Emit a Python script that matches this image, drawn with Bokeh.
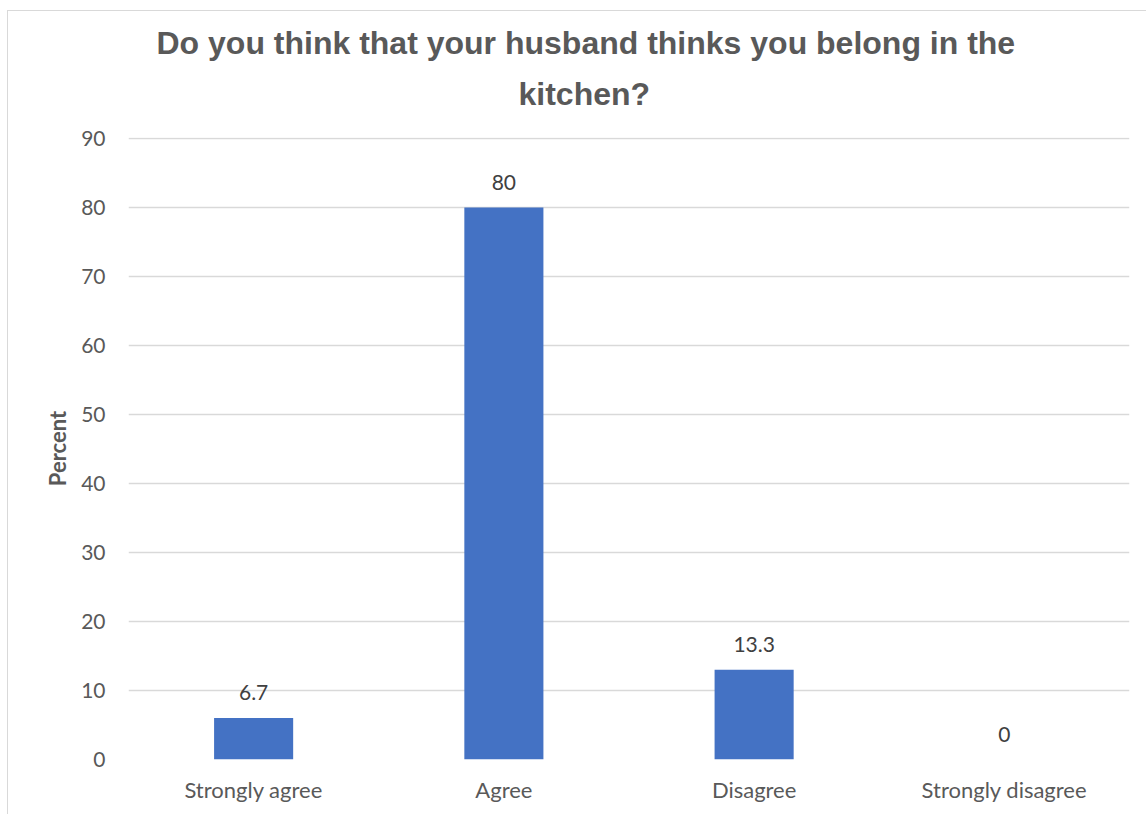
from bokeh.plotting import figure
from bokeh.models import ColumnDataSource, LabelSet, Title, FactorRange, Range1d, SingleIntervalTicker
from bokeh.core.properties import value
from bokeh.embed import file_html
from bokeh.resources import INLINE

categories = ["Strongly agree", "Agree", "Disagree", "Strongly disagree"]
bar_values = [6, 80, 13, 0]
label_texts = ["6.7", "80", "13.3", "0"]
title_line1 = "Do you think that your husband thinks you belong in the"
title_line2 = "kitchen?"
y_label = "Percent"

BAR_COLOR = "#4472C4"
GRID = "#D9D9D9"
TEXT = "#595959"
FONT = "Lato"

src = ColumnDataSource(dict(cat=categories, val=bar_values, lab=label_texts))

p = figure(x_range=FactorRange(*categories, range_padding=0), y_range=Range1d(0, 90.15),
           width=1139, height=804, output_backend="svg", toolbar_location=None,
           min_border_left=120, min_border_right=18, min_border_top=126, min_border_bottom=56)
p.margin = (10, 0, 0, 7)
p.styles = {"border-top": "1px solid #D9D9D9", "border-left": "1px solid #D9D9D9"}
p.title = None

p.vbar(x="cat", top="val", width=0.316, source=src, fill_color=BAR_COLOR, line_color=None)

labels = LabelSet(x="cat", y="val", text="lab", source=src, y_offset=18,
                  text_align="center", text_baseline="alphabetic",
                  text_font=value(FONT), text_font_size="21px", text_color="#404040")
p.add_layout(labels)

t2 = Title(text=title_line2, align="left", offset=390, standoff=51,
           text_font="Liberation Sans", text_font_size="32px", text_font_style="bold", text_color=TEXT)
t1 = Title(text=title_line1, align="left", offset=28, standoff=-24,
           text_font="Liberation Sans", text_font_size="32px", text_font_style="bold", text_color=TEXT)
p.add_layout(t2, "above")
p.add_layout(t1, "above")

p.yaxis.ticker = SingleIntervalTicker(interval=10)
p.yaxis.axis_line_color = None
p.yaxis.major_tick_line_color = None
p.yaxis.minor_tick_line_color = None
p.yaxis.major_label_standoff = 17
p.yaxis.major_label_text_font = FONT
p.yaxis.major_label_text_font_size = "21px"
p.yaxis.major_label_text_color = TEXT
p.yaxis.axis_label = y_label
p.yaxis.axis_label_text_font = FONT
p.yaxis.axis_label_text_font_size = "22px"
p.yaxis.axis_label_text_font_style = "bold"
p.yaxis.axis_label_text_color = TEXT
p.yaxis.axis_label_standoff = 7

p.xaxis.axis_line_color = None
p.xaxis.major_tick_line_color = None
p.xaxis.minor_tick_line_color = None
p.xaxis.major_label_standoff = 10
p.xaxis.major_label_text_font = FONT
p.xaxis.major_label_text_font_size = "22px"
p.xaxis.major_label_text_color = TEXT

p.xgrid.grid_line_color = None
p.ygrid.grid_line_color = GRID
p.ygrid.grid_line_width = 1.5
p.outline_line_color = None

open("out.html", "w").write(file_html(p, INLINE))
